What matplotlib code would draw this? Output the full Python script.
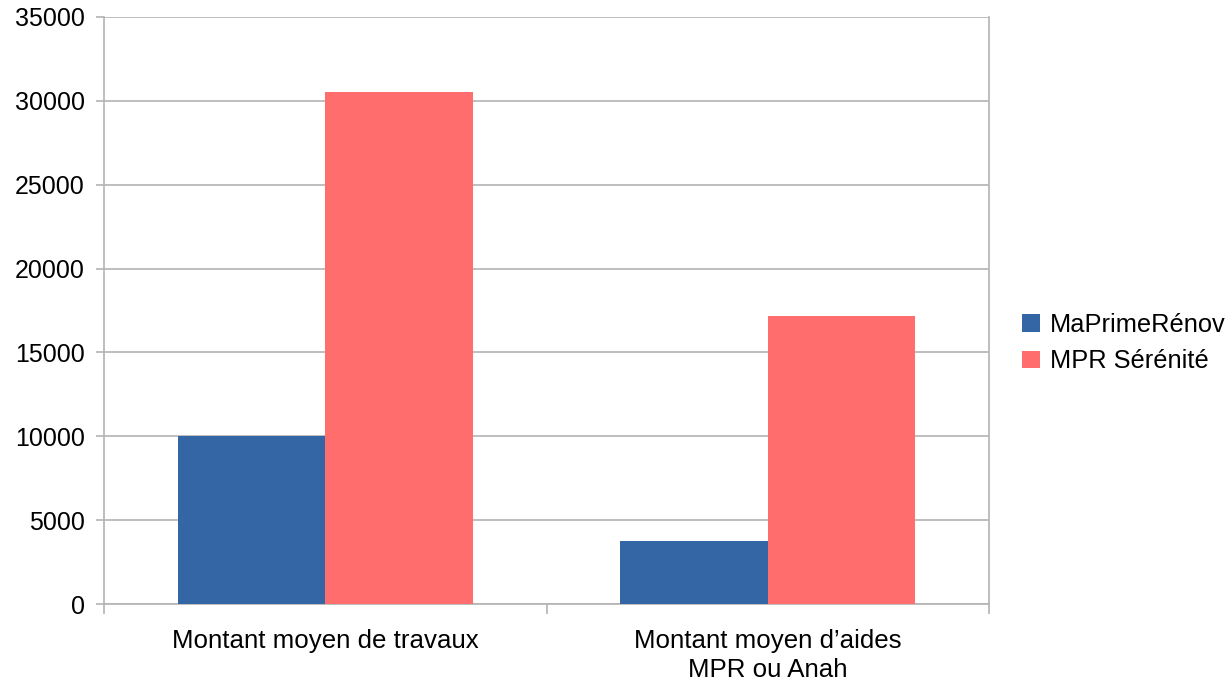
import matplotlib.pyplot as plt
import numpy as np

categories = ["Montant moyen de travaux", "Montant moyen d\u2019aides\nMPR ou Anah"]
series_names = ["MaPrimeR\u00e9nov", "MPR S\u00e9r\u00e9nit\u00e9"]
maprimerenov = [10000, 3750]
mpr_serenite = [30500, 17200]
colors = ["#3465a4", "#ff6d6d"]

plt.rcParams["font.family"] = ["Liberation Sans", "DejaVu Sans"]

fig = plt.figure(figsize=(12.28, 6.81), dpi=100)
ax = fig.add_axes([104 / 1228, 1 - 604 / 681, (989 - 104) / 1228, (604 - 17) / 681])

x = np.arange(len(categories))
w = 1 / 3
ax.bar(x - w / 2, maprimerenov, w, color=colors[0], label=series_names[0], zorder=3)
ax.bar(x + w / 2, mpr_serenite, w, color=colors[1], label=series_names[1], zorder=3)

ax.set_xlim(-0.5, len(categories) - 0.5)
ax.set_ylim(0, 35000)
ax.set_yticks(np.arange(0, 35001, 5000))
ax.yaxis.grid(True, color="#b3b3b3", lw=1.2, zorder=0)

grey = "#b3b3b3"
ax.spines["top"].set_visible(False)
for s in ["left", "right", "bottom"]:
    ax.spines[s].set_color(grey)
    ax.spines[s].set_linewidth(1.2)

# category labels centred, boundary ticks as minor ticks
ax.set_xticks(x)
ax.set_xticklabels(categories, fontsize=18.6, linespacing=1.24)
ax.tick_params(axis="x", which="major", length=0, pad=18)
ax.set_xticks(np.arange(-0.5, len(categories)), minor=True)
ax.tick_params(axis="x", which="minor", length=7.2, width=1.2, color=grey)
ax.tick_params(axis="y", length=5.8, width=1.2, color=grey, pad=8, labelsize=18)

ax.legend(loc="center left", bbox_to_anchor=(1022 / 1228, 1 - 343 / 681), bbox_transform=fig.transFigure,
          frameon=False, fontsize=18.3, handlelength=0.7, handleheight=0.7, handletextpad=0.4,
          labelspacing=0.5, borderaxespad=0, borderpad=0)

fig.savefig("out.png", dpi=100)
